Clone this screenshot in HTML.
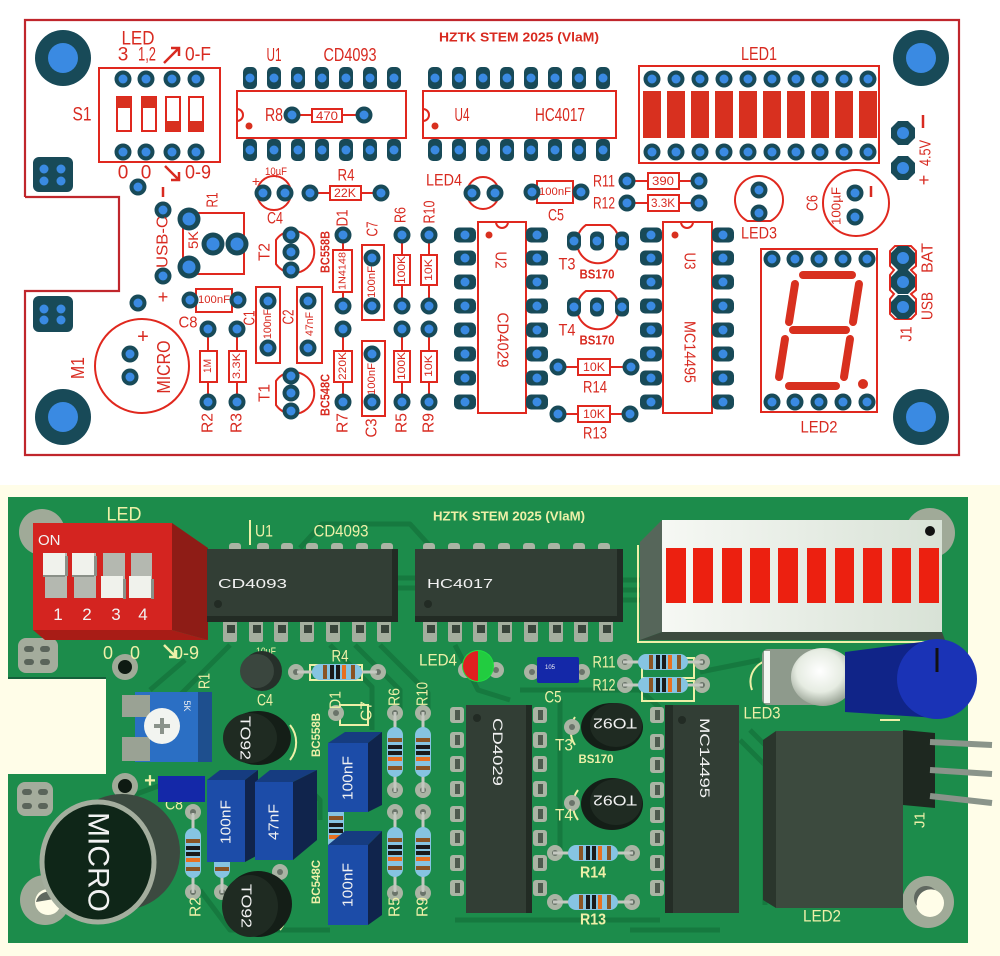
<!DOCTYPE html>
<html><head><meta charset="utf-8">
<style>
html,body{margin:0;padding:0;background:#fff;width:1000px;height:956px;overflow:hidden}
svg{display:block}
.t{font-family:"Liberation Sans",sans-serif;fill:#d82a20}
.y{font-family:"Liberation Sans",sans-serif;fill:#eef0a8}
.w{font-family:"Liberation Sans",sans-serif;fill:#f2f2f2}
</style></head><body>
<svg width="1000" height="956" viewBox="0 0 1000 956" xmlns="http://www.w3.org/2000/svg">
<defs>
<g id="p"><circle r="8.5" fill="#184a58"/><circle r="4.5" fill="#3a8ae2"/></g>
<g id="pb"><circle r="11.5" fill="#184a58"/><circle r="6.5" fill="#3a8ae2"/></g>
<g id="pv"><rect x="-7" y="-11" width="14" height="22" rx="5" fill="#184a58"/><circle r="4.5" fill="#3a8ae2"/></g>
<g id="ph"><rect x="-11" y="-7.5" width="22" height="15" rx="5" fill="#184a58"/><circle r="4.5" fill="#3a8ae2"/></g>
<g id="pt"><rect x="-7" y="-9.5" width="14" height="19" rx="6" fill="#184a58"/><circle r="4.5" fill="#3a8ae2"/></g>
<g id="po"><polygon points="-5,-12 5,-12 12,-5 12,5 5,12 -5,12 -12,5 -12,-5" fill="#184a58"/><circle r="6" fill="#3a8ae2"/></g>
<g id="mh"><circle r="28" fill="#184a58"/><circle r="15" fill="#3a8ae2"/></g>
<g id="gp"><circle r="8" fill="#aab4a4"/><circle r="3" fill="#6a746a"/></g>
<g id="gi"><rect x="-7" y="-8" width="14" height="16" rx="3" fill="#aab4a4"/><rect x="-2" y="-5" width="5" height="10" fill="#4e5a4e"/></g>
<g id="rh"><line x1="-40" x2="40" stroke="#c4c8c0" stroke-width="3"/><rect x="-25" y="-8" width="50" height="16" rx="8" fill="#86c4e2"/><rect x="-14" y="-7" width="4" height="14" fill="#8a5424"/><rect x="-7" y="-7" width="4" height="14" fill="#1a1a1a"/><rect x="-1" y="-7" width="4" height="14" fill="#1a1a1a"/><rect x="5" y="-7" width="4" height="14" fill="#e87020"/><rect x="14" y="-7" width="4" height="14" fill="#8a5424"/></g>
<radialGradient id="ledg" cx="0.45" cy="0.4" r="0.6"><stop offset="0" stop-color="#ffffff"/><stop offset="0.6" stop-color="#e6ece2"/><stop offset="1" stop-color="#9aa496"/></radialGradient>
<linearGradient id="barg" x1="0" x2="1"><stop offset="0" stop-color="#f6f8f4"/><stop offset="1" stop-color="#d8e2d6"/></linearGradient>
</defs>

<!-- ================= TOP: PCB LAYOUT ================= -->
<rect x="0" y="0" width="1000" height="484" fill="#ffffff"/>
<path d="M25,197 V20 H959 V455 H25 V291 H119 V197 H25" fill="none" stroke="#c0262c" stroke-width="2.2"/>

<use href="#mh" x="63" y="58"/><use href="#mh" x="921" y="58"/><use href="#mh" x="63" y="417"/><use href="#mh" x="921" y="417"/>

<rect x="33" y="157" width="40" height="35" rx="6" fill="#184a58"/>
<circle cx="44" cy="169" r="4.5" fill="#3a8ae2"/><circle cx="61" cy="169" r="4.5" fill="#3a8ae2"/><circle cx="44" cy="181" r="4.5" fill="#3a8ae2"/><circle cx="61" cy="181" r="4.5" fill="#3a8ae2"/>
<rect x="33" y="296" width="40" height="36" rx="6" fill="#184a58"/>
<circle cx="44" cy="309" r="4.5" fill="#3a8ae2"/><circle cx="61" cy="309" r="4.5" fill="#3a8ae2"/><circle cx="44" cy="320" r="4.5" fill="#3a8ae2"/><circle cx="61" cy="320" r="4.5" fill="#3a8ae2"/>

<g fill="none" stroke="#e0281e" stroke-width="2">
<rect x="99" y="68" width="121" height="94"/>
<rect x="117" y="97" width="14" height="34" fill="#fff"/><rect x="142" y="97" width="14" height="34" fill="#fff"/><rect x="166" y="97" width="14" height="34" fill="#fff"/><rect x="189" y="97" width="14" height="34" fill="#fff"/>
<rect x="237" y="91" width="169" height="47"/>
<path d="M237,109 A6,6 0 0 1 237,121"/>
<rect x="423" y="91" width="193" height="47"/>
<path d="M423,109 A6,6 0 0 1 423,121"/>
<line x1="292" y1="115" x2="364" y2="115"/>
<rect x="312" y="109" width="30" height="13" fill="#fff"/>
<rect x="639" y="66" width="240" height="97"/>
<circle cx="274" cy="193" r="17"/>
<line x1="310" y1="193" x2="381" y2="193"/>
<rect x="330" y="186" width="31" height="14" fill="#fff"/>
<circle cx="483" cy="193" r="16"/>
<rect x="537" y="181" width="36" height="22" fill="#fff"/>
<line x1="627" y1="181" x2="699" y2="181"/><rect x="648" y="173" width="31" height="16" fill="#fff"/>
<line x1="627" y1="203" x2="699" y2="203"/><rect x="648" y="195" width="31" height="16" fill="#fff"/>
<path d="M747.4,221 A24,24 0 1 1 770.6,221 Z"/>
<circle cx="856" cy="203" r="33"/>
<rect x="183" y="213" width="61" height="61"/>
<rect x="196" y="289" width="36" height="23" fill="#fff"/>
<circle cx="142" cy="366" r="47"/>
<line x1="208" y1="329" x2="208" y2="402"/><rect x="200" y="351" width="17" height="31" fill="#fff"/>
<line x1="237" y1="329" x2="237" y2="402"/><rect x="229" y="351" width="17" height="31" fill="#fff"/>
<rect x="256" y="287" width="24" height="76"/>
<rect x="297" y="287" width="25" height="76"/>
<path d="M276,240 A21,21 0 1 1 276,264 Z"/>
<path d="M276,381 A21,21 0 1 1 276,405 Z"/>
<line x1="343" y1="235" x2="343" y2="306"/><rect x="333" y="250" width="19" height="42" fill="#fff"/>
<line x1="343" y1="329" x2="343" y2="402"/><rect x="334" y="351" width="18" height="31" fill="#fff"/>
<rect x="362" y="245" width="22" height="75"/>
<rect x="362" y="341" width="23" height="75"/>
<line x1="402" y1="235" x2="402" y2="306"/><rect x="394" y="255" width="16" height="30" fill="#fff"/>
<line x1="402" y1="329" x2="402" y2="402"/><rect x="394" y="351" width="16" height="31" fill="#fff"/>
<line x1="429" y1="235" x2="429" y2="306"/><rect x="421" y="255" width="16" height="30" fill="#fff"/>
<line x1="429" y1="329" x2="429" y2="402"/><rect x="421" y="351" width="16" height="31" fill="#fff"/>
<rect x="478" y="222" width="48" height="191"/>
<path d="M496,222 A6,6 0 0 0 508,222"/>
<rect x="663" y="222" width="49" height="191"/>
<path d="M681,222 A6,6 0 0 0 693,222"/>
<path d="M586,225 A21,21 0 1 0 610,225 Z"/>
<path d="M586,291 A21,21 0 1 0 610,291 Z"/>
<line x1="558" y1="367" x2="631" y2="367"/><rect x="578" y="359" width="32" height="16" fill="#fff"/>
<line x1="558" y1="414" x2="630" y2="414"/><rect x="578" y="406" width="32" height="16" fill="#fff"/>
<rect x="761" y="249" width="116" height="163"/>
<path d="M895,246 H911 L916,251 V266 L911,270 L916,275 V290 L911,294 L916,299 V314 L911,319 H895 L890,314 V299 L894,294 L890,290 V275 L894,270 L890,266 V251 Z"/>
</g>

<rect x="117" y="97" width="14" height="11" fill="#d8301f"/><rect x="142" y="97" width="14" height="11" fill="#d8301f"/>
<rect x="166" y="121" width="14" height="10" fill="#d8301f"/><rect x="189" y="121" width="14" height="10" fill="#d8301f"/>
<circle cx="249" cy="126" r="3.5" fill="#d8301f"/><circle cx="435" cy="126" r="3.5" fill="#d8301f"/>
<circle cx="489" cy="235" r="3.5" fill="#d8301f"/><circle cx="675" cy="235" r="3.5" fill="#d8301f"/>

<g fill="#d8301f">
<rect x="643" y="91" width="18" height="47"/><rect x="667" y="91" width="18" height="47"/><rect x="691" y="91" width="18" height="47"/><rect x="715" y="91" width="18" height="47"/><rect x="739" y="91" width="18" height="47"/><rect x="763" y="91" width="18" height="47"/><rect x="787" y="91" width="18" height="47"/><rect x="811" y="91" width="18" height="47"/><rect x="835" y="91" width="18" height="47"/><rect x="859" y="91" width="18" height="47"/>
</g>

<g stroke="#d8301f" stroke-width="8" stroke-linecap="round" fill="none">
<line x1="803" y1="275" x2="852" y2="275"/>
<line x1="859" y1="284" x2="853" y2="322"/>
<line x1="795" y1="284" x2="789" y2="322"/>
<line x1="793" y1="330" x2="846" y2="330"/>
<line x1="785" y1="339" x2="779" y2="377"/>
<line x1="850" y1="339" x2="844" y2="377"/>
<line x1="789" y1="386" x2="836" y2="386"/>
</g>
<circle cx="863" cy="384" r="5" fill="#d8301f"/>

<use href="#p" x="123" y="79"/><use href="#p" x="146" y="79"/><use href="#p" x="172" y="79"/><use href="#p" x="196" y="79"/>
<use href="#p" x="123" y="152"/><use href="#p" x="146" y="152"/><use href="#p" x="172" y="152"/><use href="#p" x="196" y="152"/>
<use href="#p" x="138" y="187"/><use href="#p" x="163" y="210"/><use href="#p" x="163" y="276"/><use href="#p" x="138" y="303"/>
<use href="#pb" x="189" y="219"/><use href="#pb" x="213" y="244"/><use href="#pb" x="237" y="244"/><use href="#pb" x="189" y="267"/>
<use href="#p" x="190" y="300"/><use href="#p" x="238" y="300"/>
<use href="#p" x="130" y="354"/><use href="#p" x="130" y="377"/>
<use href="#p" x="208" y="329"/><use href="#p" x="208" y="402"/><use href="#p" x="237" y="329"/><use href="#p" x="237" y="402"/>
<use href="#p" x="263" y="193"/><use href="#p" x="285" y="193"/><use href="#p" x="310" y="193"/><use href="#p" x="381" y="193"/>
<use href="#p" x="291" y="235"/><use href="#p" x="291" y="252"/><use href="#p" x="291" y="270"/>
<use href="#p" x="291" y="376"/><use href="#p" x="291" y="393"/><use href="#p" x="291" y="411"/>
<use href="#p" x="268" y="301"/><use href="#p" x="268" y="348"/><use href="#p" x="308" y="301"/><use href="#p" x="308" y="348"/>
<use href="#p" x="343" y="235"/><use href="#p" x="343" y="306"/><use href="#p" x="343" y="329"/><use href="#p" x="343" y="402"/>
<use href="#p" x="372" y="258"/><use href="#p" x="372" y="306"/><use href="#p" x="372" y="354"/><use href="#p" x="372" y="402"/>
<use href="#p" x="402" y="235"/><use href="#p" x="402" y="306"/><use href="#p" x="402" y="329"/><use href="#p" x="402" y="402"/>
<use href="#p" x="429" y="235"/><use href="#p" x="429" y="306"/><use href="#p" x="429" y="329"/><use href="#p" x="429" y="402"/>
<use href="#p" x="292" y="115"/><use href="#p" x="364" y="115"/>
<use href="#p" x="472" y="193"/><use href="#p" x="495" y="193"/><use href="#p" x="532" y="192"/><use href="#p" x="581" y="192"/>
<use href="#p" x="627" y="181"/><use href="#p" x="699" y="181"/><use href="#p" x="627" y="203"/><use href="#p" x="699" y="203"/>
<use href="#p" x="759" y="190"/><use href="#p" x="759" y="213"/><use href="#p" x="855" y="193"/><use href="#p" x="855" y="217"/>
<use href="#po" x="903" y="133"/><use href="#po" x="903" y="168"/>
<use href="#po" x="903" y="258"/><use href="#po" x="903" y="282"/><use href="#po" x="903" y="307"/>
<use href="#pt" x="574" y="241"/><use href="#pt" x="597" y="241"/><use href="#pt" x="622" y="241"/>
<use href="#pt" x="574" y="307"/><use href="#pt" x="597" y="307"/><use href="#pt" x="622" y="307"/>
<use href="#p" x="558" y="367"/><use href="#p" x="631" y="367"/><use href="#p" x="558" y="414"/><use href="#p" x="630" y="414"/>
<use href="#p" x="772" y="259"/><use href="#p" x="795" y="259"/><use href="#p" x="819" y="259"/><use href="#p" x="843" y="259"/><use href="#p" x="867" y="259"/>
<use href="#p" x="772" y="402"/><use href="#p" x="795" y="402"/><use href="#p" x="819" y="402"/><use href="#p" x="843" y="402"/><use href="#p" x="867" y="402"/>
<use href="#pv" x="250" y="78"/><use href="#pv" x="274" y="78"/><use href="#pv" x="298" y="78"/><use href="#pv" x="322" y="78"/><use href="#pv" x="346" y="78"/><use href="#pv" x="370" y="78"/><use href="#pv" x="394" y="78"/>
<use href="#pv" x="250" y="150"/><use href="#pv" x="274" y="150"/><use href="#pv" x="298" y="150"/><use href="#pv" x="322" y="150"/><use href="#pv" x="346" y="150"/><use href="#pv" x="370" y="150"/><use href="#pv" x="394" y="150"/>
<use href="#pv" x="435" y="78"/><use href="#pv" x="459" y="78"/><use href="#pv" x="483" y="78"/><use href="#pv" x="507" y="78"/><use href="#pv" x="531" y="78"/><use href="#pv" x="555" y="78"/><use href="#pv" x="579" y="78"/><use href="#pv" x="603" y="78"/>
<use href="#pv" x="435" y="150"/><use href="#pv" x="459" y="150"/><use href="#pv" x="483" y="150"/><use href="#pv" x="507" y="150"/><use href="#pv" x="531" y="150"/><use href="#pv" x="555" y="150"/><use href="#pv" x="579" y="150"/><use href="#pv" x="603" y="150"/>
<use href="#p" x="652" y="79"/><use href="#p" x="676" y="79"/><use href="#p" x="700" y="79"/><use href="#p" x="724" y="79"/><use href="#p" x="748" y="79"/><use href="#p" x="772" y="79"/><use href="#p" x="796" y="79"/><use href="#p" x="820" y="79"/><use href="#p" x="844" y="79"/><use href="#p" x="868" y="79"/>
<use href="#p" x="652" y="152"/><use href="#p" x="676" y="152"/><use href="#p" x="700" y="152"/><use href="#p" x="724" y="152"/><use href="#p" x="748" y="152"/><use href="#p" x="772" y="152"/><use href="#p" x="796" y="152"/><use href="#p" x="820" y="152"/><use href="#p" x="844" y="152"/><use href="#p" x="868" y="152"/>
<g>
<use href="#ph" x="465" y="235"/><use href="#ph" x="465" y="258"/><use href="#ph" x="465" y="282"/><use href="#ph" x="465" y="306"/><use href="#ph" x="465" y="330"/><use href="#ph" x="465" y="354"/><use href="#ph" x="465" y="378"/><use href="#ph" x="465" y="402"/>
<use href="#ph" x="537" y="235"/><use href="#ph" x="537" y="258"/><use href="#ph" x="537" y="282"/><use href="#ph" x="537" y="306"/><use href="#ph" x="537" y="330"/><use href="#ph" x="537" y="354"/><use href="#ph" x="537" y="378"/><use href="#ph" x="537" y="402"/>
<use href="#ph" x="651" y="235"/><use href="#ph" x="651" y="258"/><use href="#ph" x="651" y="282"/><use href="#ph" x="651" y="306"/><use href="#ph" x="651" y="330"/><use href="#ph" x="651" y="354"/><use href="#ph" x="651" y="378"/><use href="#ph" x="651" y="402"/>
<use href="#ph" x="723" y="235"/><use href="#ph" x="723" y="258"/><use href="#ph" x="723" y="282"/><use href="#ph" x="723" y="306"/><use href="#ph" x="723" y="330"/><use href="#ph" x="723" y="354"/><use href="#ph" x="723" y="378"/><use href="#ph" x="723" y="402"/>
</g>

<g stroke="#d82a20" stroke-width="2.5" fill="none">
<path d="M164,63 L179,48 M171,48 H179 V56"/>
<path d="M165,166 L179,180 M171,180 H179 V172"/>
<line x1="163" y1="187" x2="163" y2="197"/>
<line x1="923" y1="115" x2="923" y2="128"/>
<line x1="871" y1="186" x2="871" y2="197"/>
</g>

<g class="t" text-anchor="middle" dominant-baseline="central">
<text x="138" y="39" font-size="19" textLength="33" lengthAdjust="spacingAndGlyphs">LED</text>
<text x="123" y="55" font-size="19">3</text>
<text x="147" y="55" font-size="19" textLength="18" lengthAdjust="spacingAndGlyphs">1,2</text>
<text x="198" y="55" font-size="19" textLength="26" lengthAdjust="spacingAndGlyphs">0-F</text>
<text x="123" y="173" font-size="19">0</text>
<text x="146" y="173" font-size="19">0</text>
<text x="198" y="173" font-size="19" textLength="26" lengthAdjust="spacingAndGlyphs">0-9</text>
<text x="82" y="115" font-size="19" textLength="19" lengthAdjust="spacingAndGlyphs">S1</text>
<text x="274" y="55" font-size="18" textLength="15" lengthAdjust="spacingAndGlyphs">U1</text>
<text x="350" y="55" font-size="18" textLength="53" lengthAdjust="spacingAndGlyphs">CD4093</text>
<text x="274" y="115" font-size="18" textLength="18" lengthAdjust="spacingAndGlyphs">R8</text>
<text x="327" y="116" font-size="12" textLength="22" lengthAdjust="spacingAndGlyphs">470</text>
<text x="519" y="37" font-size="13" font-weight="bold" textLength="160" lengthAdjust="spacingAndGlyphs">HZTK STEM 2025 (VlaM)</text>
<text x="462" y="115" font-size="18" textLength="15" lengthAdjust="spacingAndGlyphs">U4</text>
<text x="560" y="115" font-size="18" textLength="50" lengthAdjust="spacingAndGlyphs">HC4017</text>
<text x="759" y="54" font-size="18" textLength="36" lengthAdjust="spacingAndGlyphs">LED1</text>
<text x="604" y="181" font-size="17" textLength="22" lengthAdjust="spacingAndGlyphs">R11</text>
<text x="663" y="181" font-size="12" textLength="22" lengthAdjust="spacingAndGlyphs">390</text>
<text x="604" y="203" font-size="17" textLength="22" lengthAdjust="spacingAndGlyphs">R12</text>
<text x="663" y="203" font-size="12" textLength="24" lengthAdjust="spacingAndGlyphs">3.3K</text>
<text x="555" y="192" font-size="11" textLength="32" lengthAdjust="spacingAndGlyphs">100nF</text>
<text x="556" y="215" font-size="17" textLength="16" lengthAdjust="spacingAndGlyphs">C5</text>
<text x="759" y="233" font-size="17" textLength="36" lengthAdjust="spacingAndGlyphs">LED3</text>
<text x="444" y="180" font-size="17" textLength="36" lengthAdjust="spacingAndGlyphs">LED4</text>
<text x="276" y="172" font-size="11" textLength="22" lengthAdjust="spacingAndGlyphs">10µF</text>
<text x="256" y="181" font-size="14">+</text>
<text x="275" y="218" font-size="17" textLength="16" lengthAdjust="spacingAndGlyphs">C4</text>
<text x="346" y="175" font-size="17" textLength="17" lengthAdjust="spacingAndGlyphs">R4</text>
<text x="345" y="193" font-size="12" textLength="22" lengthAdjust="spacingAndGlyphs">22K</text>
<text x="163" y="297" font-size="18">+</text>
<text x="188" y="323" font-size="16" textLength="19" lengthAdjust="spacingAndGlyphs">C8</text>
<text x="214" y="300" font-size="11" textLength="32" lengthAdjust="spacingAndGlyphs">100nF</text>
<text x="143" y="337" font-size="20">+</text>
<text x="567" y="264" font-size="17" textLength="17" lengthAdjust="spacingAndGlyphs">T3</text>
<text x="597" y="274" font-size="13" font-weight="bold" textLength="35" lengthAdjust="spacingAndGlyphs">BS170</text>
<text x="567" y="330" font-size="17" textLength="17" lengthAdjust="spacingAndGlyphs">T4</text>
<text x="597" y="340" font-size="13" font-weight="bold" textLength="35" lengthAdjust="spacingAndGlyphs">BS170</text>
<text x="594" y="367" font-size="12" textLength="22" lengthAdjust="spacingAndGlyphs">10K</text>
<text x="595" y="387" font-size="17" textLength="24" lengthAdjust="spacingAndGlyphs">R14</text>
<text x="594" y="414" font-size="12" textLength="22" lengthAdjust="spacingAndGlyphs">10K</text>
<text x="595" y="433" font-size="17" textLength="24" lengthAdjust="spacingAndGlyphs">R13</text>
<text x="819" y="427" font-size="17" textLength="37" lengthAdjust="spacingAndGlyphs">LED2</text>
<text transform="translate(926,153) rotate(-90)" font-size="16" textLength="26" lengthAdjust="spacingAndGlyphs">4.5V</text>
<text transform="translate(924,180) rotate(-90)" font-size="18">+</text>
<text transform="translate(813,203) rotate(-90)" font-size="16" textLength="16" lengthAdjust="spacingAndGlyphs">C6</text>
<text transform="translate(836,206) rotate(-90)" font-size="13" textLength="38" lengthAdjust="spacingAndGlyphs">100µF</text>
<text transform="translate(343,218) rotate(-90)" font-size="16" textLength="17" lengthAdjust="spacingAndGlyphs">D1</text>
<text transform="translate(373,229) rotate(-90)" font-size="16" textLength="15" lengthAdjust="spacingAndGlyphs">C7</text>
<text transform="translate(401,215) rotate(-90)" font-size="16" textLength="16" lengthAdjust="spacingAndGlyphs">R6</text>
<text transform="translate(430,212) rotate(-90)" font-size="16" textLength="23" lengthAdjust="spacingAndGlyphs">R10</text>
<text transform="translate(213,200) rotate(-90)" font-size="16" textLength="15" lengthAdjust="spacingAndGlyphs">R1</text>
<text transform="translate(193,240) rotate(-90)" font-size="14" textLength="18" lengthAdjust="spacingAndGlyphs">5K</text>
<text transform="translate(163,242) rotate(-90)" font-size="16" textLength="52" lengthAdjust="spacingAndGlyphs">USB-C</text>
<text transform="translate(250,318) rotate(-90)" font-size="16" textLength="15" lengthAdjust="spacingAndGlyphs">C1</text>
<text transform="translate(268,324) rotate(-90)" font-size="11" textLength="30" lengthAdjust="spacingAndGlyphs">100nF</text>
<text transform="translate(289,317) rotate(-90)" font-size="16" textLength="15" lengthAdjust="spacingAndGlyphs">C2</text>
<text transform="translate(310,324) rotate(-90)" font-size="11" textLength="24" lengthAdjust="spacingAndGlyphs">47nF</text>
<text transform="translate(343,271) rotate(-90)" font-size="10" textLength="38" lengthAdjust="spacingAndGlyphs">1N4148</text>
<text transform="translate(265,252) rotate(-90)" font-size="16" textLength="18" lengthAdjust="spacingAndGlyphs">T2</text>
<text transform="translate(325,252) rotate(-90)" font-size="13" font-weight="bold" textLength="42" lengthAdjust="spacingAndGlyphs">BC558B</text>
<text transform="translate(265,393) rotate(-90)" font-size="16" textLength="18" lengthAdjust="spacingAndGlyphs">T1</text>
<text transform="translate(325,395) rotate(-90)" font-size="13" font-weight="bold" textLength="42" lengthAdjust="spacingAndGlyphs">BC548C</text>
<text transform="translate(372,282) rotate(-90)" font-size="11" textLength="32" lengthAdjust="spacingAndGlyphs">100nF</text>
<text transform="translate(372,379) rotate(-90)" font-size="11" textLength="32" lengthAdjust="spacingAndGlyphs">100nF</text>
<text transform="translate(402,270) rotate(-90)" font-size="11" textLength="28" lengthAdjust="spacingAndGlyphs">100K</text>
<text transform="translate(429,270) rotate(-90)" font-size="11" textLength="22" lengthAdjust="spacingAndGlyphs">10K</text>
<text transform="translate(343,366) rotate(-90)" font-size="11" textLength="28" lengthAdjust="spacingAndGlyphs">220K</text>
<text transform="translate(402,366) rotate(-90)" font-size="11" textLength="28" lengthAdjust="spacingAndGlyphs">100K</text>
<text transform="translate(429,366) rotate(-90)" font-size="11" textLength="22" lengthAdjust="spacingAndGlyphs">10K</text>
<text transform="translate(208,366) rotate(-90)" font-size="11" textLength="14" lengthAdjust="spacingAndGlyphs">1M</text>
<text transform="translate(237,366) rotate(-90)" font-size="11" textLength="26" lengthAdjust="spacingAndGlyphs">3.3K</text>
<text transform="translate(208,423) rotate(-90)" font-size="16" textLength="20" lengthAdjust="spacingAndGlyphs">R2</text>
<text transform="translate(237,423) rotate(-90)" font-size="16" textLength="20" lengthAdjust="spacingAndGlyphs">R3</text>
<text transform="translate(343,423) rotate(-90)" font-size="16" textLength="20" lengthAdjust="spacingAndGlyphs">R7</text>
<text transform="translate(372,428) rotate(-90)" font-size="16" textLength="19" lengthAdjust="spacingAndGlyphs">C3</text>
<text transform="translate(402,423) rotate(-90)" font-size="16" textLength="20" lengthAdjust="spacingAndGlyphs">R5</text>
<text transform="translate(429,423) rotate(-90)" font-size="16" textLength="20" lengthAdjust="spacingAndGlyphs">R9</text>
<text transform="translate(78,368) rotate(-90)" font-size="18" textLength="22" lengthAdjust="spacingAndGlyphs">M1</text>
<text transform="translate(164,367) rotate(-90)" font-size="18" textLength="53" lengthAdjust="spacingAndGlyphs">MICRO</text>
<text transform="translate(928,258) rotate(-90)" font-size="16" textLength="30" lengthAdjust="spacingAndGlyphs">BAT</text>
<text transform="translate(928,306) rotate(-90)" font-size="16" textLength="28" lengthAdjust="spacingAndGlyphs">USB</text>
<text transform="translate(907,334) rotate(-90)" font-size="16" textLength="15" lengthAdjust="spacingAndGlyphs">J1</text>
<text transform="translate(500,260) rotate(90)" font-size="16" textLength="17" lengthAdjust="spacingAndGlyphs">U2</text>
<text transform="translate(502,340) rotate(90)" font-size="16" textLength="55" lengthAdjust="spacingAndGlyphs">CD4029</text>
<text transform="translate(689,261) rotate(90)" font-size="16" textLength="17" lengthAdjust="spacingAndGlyphs">U3</text>
<text transform="translate(689,352) rotate(90)" font-size="16" textLength="62" lengthAdjust="spacingAndGlyphs">MC14495</text>
</g>

<!-- ================= BOTTOM: 3D RENDER ================= -->
<rect x="0" y="485" width="1000" height="471" fill="#fffde8"/>
<path d="M8,497 H968 V943 H8 V774 H106 V678 H8 Z" fill="#1c8c4b"/>
<line x1="8" y1="678" x2="106" y2="678" stroke="#14603a" stroke-width="2"/>

<g fill="none" stroke="#16793f" stroke-width="5" stroke-linejoin="round">
<path d="M300,548 L322,524 H410 L430,546"/>
<path d="M398,578 H416 M398,588 H416"/>
<path d="M623,580 H640 M623,590 H640 M623,600 H640"/>
<path d="M230,645 L180,695"/>
<path d="M330,645 L372,687 V730"/>
<path d="M355,645 L400,690 V712"/>
<path d="M380,645 L428,693 V712"/>
<path d="M455,645 L478,690 L510,700"/>
<path d="M520,690 H640 L660,708"/>
<path d="M700,672 L760,660"/>
<path d="M740,740 L765,765 V905"/>
<path d="M750,730 L778,758"/>
<path d="M560,700 L560,850"/>
<path d="M455,920 H660"/>
<path d="M300,780 L320,800 V820"/>
<path d="M150,690 L185,660"/>
<path d="M200,890 L230,930 H330"/>
<path d="M630,930 L720,930"/>
<path d="M120,800 L175,780"/>
</g>

<g fill="none" stroke="#eef0a8" stroke-width="2">
<path d="M638,545 V642 H945"/>
<path d="M752,690 A22,22 0 0 1 770,660"/>
<path d="M575,717 A25,25 0 0 0 575,745"/>
<path d="M578,790 A25,25 0 0 0 578,820"/>
<path d="M290,725 A28,28 0 0 1 290,760"/>
<path d="M280,895 A28,28 0 0 1 280,930"/>
<rect x="642" y="658" width="52" height="20"/>
<rect x="642" y="681" width="52" height="20"/>
<rect x="310" y="665" width="52" height="15"/>
<line x1="250" y1="520" x2="250" y2="545"/>
<rect x="340" y="705" width="28" height="20"/>
<path d="M880,720 H900"/>
</g>

<g>
<circle cx="42" cy="532" r="23" fill="#a0aa98"/>
<circle cx="930" cy="533" r="25" fill="#a0aa98"/>
<circle cx="45" cy="900" r="25" fill="#a0aa98"/><circle cx="48" cy="902" r="13" fill="#fffde8"/><path d="M36,902 A13,13 0 0 1 60,898" fill="#606860"/>
<circle cx="928" cy="902" r="26" fill="#a0aa98"/><circle cx="930" cy="903" r="14" fill="#fffde8"/><path d="M917,906 A14,14 0 0 1 935,890 A12,12 0 0 0 917,906" fill="#606860"/>
<rect x="18" y="638" width="40" height="35" rx="8" fill="#a4ac9c"/>
<rect x="24" y="646" width="10" height="6" rx="3" fill="#5a645a"/><rect x="40" y="646" width="10" height="6" rx="3" fill="#5a645a"/><rect x="24" y="659" width="10" height="6" rx="3" fill="#5a645a"/><rect x="40" y="659" width="10" height="6" rx="3" fill="#5a645a"/>
<rect x="17" y="782" width="36" height="34" rx="8" fill="#a4ac9c"/>
<rect x="22" y="789" width="10" height="6" rx="3" fill="#5a645a"/><rect x="38" y="789" width="10" height="6" rx="3" fill="#5a645a"/><rect x="22" y="803" width="10" height="6" rx="3" fill="#5a645a"/><rect x="38" y="803" width="10" height="6" rx="3" fill="#5a645a"/>
<circle cx="125" cy="667" r="13" fill="#a0aa98"/><circle cx="125" cy="667" r="7" fill="#0e1a12"/>
<circle cx="125" cy="786" r="13" fill="#a0aa98"/><circle cx="125" cy="786" r="7" fill="#0e1a12"/>
<use href="#gp" x="296" y="672"/><use href="#gp" x="378" y="672"/>
<use href="#gp" x="625" y="662"/><use href="#gp" x="702" y="662"/><use href="#gp" x="625" y="685"/><use href="#gp" x="702" y="685"/>
<use href="#gp" x="532" y="672"/><use href="#gp" x="582" y="672"/>
<use href="#gp" x="466" y="670"/><use href="#gp" x="496" y="670"/>
<use href="#gp" x="395" y="713"/><use href="#gp" x="395" y="790"/><use href="#gp" x="423" y="713"/><use href="#gp" x="423" y="790"/>
<use href="#gp" x="395" y="812"/><use href="#gp" x="395" y="893"/><use href="#gp" x="423" y="812"/><use href="#gp" x="423" y="893"/>
<use href="#gp" x="193" y="812"/><use href="#gp" x="193" y="892"/><use href="#gp" x="222" y="812"/><use href="#gp" x="222" y="892"/>
<use href="#gp" x="336" y="713"/><use href="#gp" x="336" y="812"/>
<use href="#gp" x="555" y="853"/><use href="#gp" x="632" y="853"/><use href="#gp" x="555" y="902"/><use href="#gp" x="632" y="902"/>
<use href="#gp" x="572" y="727"/><use href="#gp" x="572" y="803"/>
<use href="#gp" x="150" y="744"/><use href="#gp" x="280" y="872"/>
<use href="#gi" x="457" y="715"/><use href="#gi" x="457" y="740"/><use href="#gi" x="457" y="764"/><use href="#gi" x="457" y="789"/><use href="#gi" x="457" y="814"/><use href="#gi" x="457" y="838"/><use href="#gi" x="457" y="863"/><use href="#gi" x="457" y="888"/>
<use href="#gi" x="540" y="715"/><use href="#gi" x="540" y="740"/><use href="#gi" x="540" y="764"/><use href="#gi" x="540" y="789"/><use href="#gi" x="540" y="814"/><use href="#gi" x="540" y="838"/><use href="#gi" x="540" y="863"/><use href="#gi" x="540" y="888"/>
<use href="#gi" x="657" y="715"/><use href="#gi" x="657" y="742"/><use href="#gi" x="657" y="765"/><use href="#gi" x="657" y="790"/><use href="#gi" x="657" y="815"/><use href="#gi" x="657" y="838"/><use href="#gi" x="657" y="863"/><use href="#gi" x="657" y="888"/>
</g>

<g class="y" text-anchor="middle" dominant-baseline="central">
<text x="124" y="515" font-size="19" textLength="35" lengthAdjust="spacingAndGlyphs">LED</text>
<text x="264" y="531" font-size="17" textLength="18" lengthAdjust="spacingAndGlyphs">U1</text>
<text x="341" y="531" font-size="17" textLength="55" lengthAdjust="spacingAndGlyphs">CD4093</text>
<text x="509" y="516" font-size="13" font-weight="bold" textLength="152" lengthAdjust="spacingAndGlyphs">HZTK STEM 2025 (VlaM)</text>
<text x="108" y="653" font-size="18">0</text>
<text x="135" y="653" font-size="18">0</text>
<text x="186" y="653" font-size="18" textLength="26" lengthAdjust="spacingAndGlyphs">0-9</text>
<text x="266" y="652" font-size="11" textLength="20" lengthAdjust="spacingAndGlyphs">10µF</text>
<text x="340" y="656" font-size="17" textLength="17" lengthAdjust="spacingAndGlyphs">R4</text>
<text x="438" y="660" font-size="17" textLength="38" lengthAdjust="spacingAndGlyphs">LED4</text>
<text x="265" y="700" font-size="17" textLength="16" lengthAdjust="spacingAndGlyphs">C4</text>
<text x="553" y="697" font-size="17" textLength="17" lengthAdjust="spacingAndGlyphs">C5</text>
<text x="604" y="662" font-size="17" textLength="23" lengthAdjust="spacingAndGlyphs">R11</text>
<text x="604" y="685" font-size="17" textLength="23" lengthAdjust="spacingAndGlyphs">R12</text>
<text x="762" y="713" font-size="17" textLength="37" lengthAdjust="spacingAndGlyphs">LED3</text>
<text x="150" y="781" font-size="20" font-weight="bold">+</text>
<text x="174" y="805" font-size="16" textLength="18" lengthAdjust="spacingAndGlyphs">C8</text>
<text x="564" y="745" font-size="17" textLength="18" lengthAdjust="spacingAndGlyphs">T3</text>
<text x="596" y="759" font-size="12" font-weight="bold" textLength="35" lengthAdjust="spacingAndGlyphs">BS170</text>
<text x="564" y="815" font-size="17" textLength="18" lengthAdjust="spacingAndGlyphs">T4</text>
<text x="593" y="873" font-size="16" font-weight="bold" textLength="26" lengthAdjust="spacingAndGlyphs">R14</text>
<text x="593" y="920" font-size="16" font-weight="bold" textLength="26" lengthAdjust="spacingAndGlyphs">R13</text>
<text x="822" y="916" font-size="17" textLength="38" lengthAdjust="spacingAndGlyphs">LED2</text>
<text transform="translate(205,681) rotate(-90)" font-size="16" textLength="16" lengthAdjust="spacingAndGlyphs">R1</text>
<text transform="translate(336,700) rotate(-90)" font-size="16" textLength="18" lengthAdjust="spacingAndGlyphs">D1</text>
<text transform="translate(367,711) rotate(-90)" font-size="16" textLength="20" lengthAdjust="spacingAndGlyphs">C7</text>
<text transform="translate(395,697) rotate(-90)" font-size="16" textLength="18" lengthAdjust="spacingAndGlyphs">R6</text>
<text transform="translate(423,694) rotate(-90)" font-size="16" textLength="24" lengthAdjust="spacingAndGlyphs">R10</text>
<text transform="translate(316,735) rotate(-90)" font-size="12" font-weight="bold" textLength="44" lengthAdjust="spacingAndGlyphs">BC558B</text>
<text transform="translate(316,882) rotate(-90)" font-size="12" font-weight="bold" textLength="44" lengthAdjust="spacingAndGlyphs">BC548C</text>
<text transform="translate(196,907) rotate(-90)" font-size="16" textLength="20" lengthAdjust="spacingAndGlyphs">R2</text>
<text transform="translate(395,907) rotate(-90)" font-size="16" textLength="20" lengthAdjust="spacingAndGlyphs">R5</text>
<text transform="translate(423,907) rotate(-90)" font-size="16" textLength="20" lengthAdjust="spacingAndGlyphs">R9</text>
<text transform="translate(920,820) rotate(-90)" font-size="15" textLength="16" lengthAdjust="spacingAndGlyphs">J1</text>
</g>
<path d="M164,645 L176,657 M169,657 H176 V650" stroke="#eef0a8" stroke-width="2.5" fill="none"/>

<!-- DIP switch -->
<rect x="33" y="523" width="139" height="107" fill="#d42420"/>
<polygon points="172,523 208,548 208,640 172,630" fill="#8e1c16"/>
<polygon points="33,630 172,630 208,640 45,640" fill="#a81c16"/>
<text x="38" y="545" class="w" font-size="15">ON</text>
<g>
<rect x="45" y="553" width="22" height="45" fill="#b4b8b0"/><rect x="43" y="553" width="22" height="22" fill="#f0f2ec"/><rect x="65" y="556" width="3" height="20" fill="#8a9088"/><rect x="43" y="575" width="22" height="2" fill="#8a9088"/>
<rect x="74" y="553" width="22" height="45" fill="#b4b8b0"/><rect x="72" y="553" width="22" height="22" fill="#f0f2ec"/><rect x="94" y="556" width="3" height="20" fill="#8a9088"/><rect x="72" y="575" width="22" height="2" fill="#8a9088"/>
<rect x="103" y="553" width="22" height="45" fill="#b4b8b0"/><rect x="101" y="576" width="22" height="22" fill="#f0f2ec"/><rect x="123" y="579" width="3" height="20" fill="#8a9088"/>
<rect x="131" y="553" width="21" height="45" fill="#b4b8b0"/><rect x="129" y="576" width="22" height="22" fill="#f0f2ec"/><rect x="151" y="579" width="3" height="20" fill="#8a9088"/>
</g>
<g class="w" text-anchor="middle" font-size="17"><text x="58" y="620">1</text><text x="87" y="620">2</text><text x="116" y="620">3</text><text x="143" y="620">4</text></g>

<!-- U1 / U4 chips -->
<g fill="#aab4a4">
<rect x="229" y="543" width="12" height="8" rx="3"/><rect x="257" y="543" width="12" height="8" rx="3"/><rect x="281" y="543" width="12" height="8" rx="3"/><rect x="306" y="543" width="12" height="8" rx="3"/><rect x="331" y="543" width="12" height="8" rx="3"/><rect x="356" y="543" width="12" height="8" rx="3"/><rect x="381" y="543" width="12" height="8" rx="3"/>
<rect x="423" y="543" width="12" height="8" rx="3"/><rect x="448" y="543" width="12" height="8" rx="3"/><rect x="473" y="543" width="12" height="8" rx="3"/><rect x="498" y="543" width="12" height="8" rx="3"/><rect x="523" y="543" width="12" height="8" rx="3"/><rect x="548" y="543" width="12" height="8" rx="3"/><rect x="573" y="543" width="12" height="8" rx="3"/><rect x="598" y="543" width="12" height="8" rx="3"/>
</g>
<g fill="#a4ae9e">
<rect x="223" y="620" width="14" height="22" rx="2"/><rect x="249" y="620" width="14" height="22" rx="2"/><rect x="274" y="620" width="14" height="22" rx="2"/><rect x="300" y="620" width="14" height="22" rx="2"/><rect x="326" y="620" width="14" height="22" rx="2"/><rect x="352" y="620" width="14" height="22" rx="2"/><rect x="377" y="620" width="14" height="22" rx="2"/>
<rect x="423" y="620" width="14" height="22" rx="2"/><rect x="448" y="620" width="14" height="22" rx="2"/><rect x="473" y="620" width="14" height="22" rx="2"/><rect x="498" y="620" width="14" height="22" rx="2"/><rect x="524" y="620" width="14" height="22" rx="2"/><rect x="549" y="620" width="14" height="22" rx="2"/><rect x="574" y="620" width="14" height="22" rx="2"/><rect x="599" y="620" width="14" height="22" rx="2"/>
</g>
<g fill="#38443a">
<rect x="227" y="625" width="8" height="8"/><rect x="253" y="625" width="8" height="8"/><rect x="278" y="625" width="8" height="8"/><rect x="304" y="625" width="8" height="8"/><rect x="330" y="625" width="8" height="8"/><rect x="356" y="625" width="8" height="8"/><rect x="381" y="625" width="8" height="8"/>
<rect x="427" y="625" width="8" height="8"/><rect x="452" y="625" width="8" height="8"/><rect x="477" y="625" width="8" height="8"/><rect x="502" y="625" width="8" height="8"/><rect x="528" y="625" width="8" height="8"/><rect x="553" y="625" width="8" height="8"/><rect x="578" y="625" width="8" height="8"/><rect x="603" y="625" width="8" height="8"/>
</g>
<rect x="207" y="549" width="191" height="73" fill="#323e35"/>
<rect x="392" y="549" width="6" height="73" fill="#222b24"/>
<rect x="207" y="616" width="191" height="6" fill="#222b24"/>
<circle cx="218" cy="604" r="4" fill="#222b24"/>
<text x="218" y="588" class="w" font-size="13" textLength="69" lengthAdjust="spacingAndGlyphs">CD4093</text>
<rect x="415" y="549" width="208" height="73" fill="#323e35"/>
<rect x="617" y="549" width="6" height="73" fill="#222b24"/>
<rect x="415" y="616" width="208" height="6" fill="#222b24"/>
<circle cx="428" cy="604" r="4" fill="#222b24"/>
<text x="427" y="588" class="w" font-size="13" textLength="66" lengthAdjust="spacingAndGlyphs">HC4017</text>

<!-- LED1 bar graph -->
<polygon points="640,542 662,520 662,632 640,640" fill="#56665a"/>
<polygon points="640,640 662,632 942,632 945,640" fill="#3c4a3e"/>
<rect x="662" y="520" width="280" height="112" fill="url(#barg)"/>
<g fill="#ec2010">
<rect x="666" y="548" width="20" height="55"/><rect x="693" y="548" width="20" height="55"/><rect x="722" y="548" width="20" height="55"/><rect x="750" y="548" width="20" height="55"/><rect x="778" y="548" width="20" height="55"/><rect x="807" y="548" width="19" height="55"/><rect x="835" y="548" width="19" height="55"/><rect x="863" y="548" width="19" height="55"/><rect x="892" y="548" width="19" height="55"/><rect x="919" y="548" width="20" height="55"/>
</g>
<circle cx="930" cy="531" r="5" fill="#111"/>

<!-- LED4 -->
<circle cx="478" cy="666" r="16" fill="#20e040"/>
<path d="M478,651 A15,15 0 0 0 478,681 Z" fill="#e02020"/>
<path d="M478,651 A15,15 0 0 1 478,681 Z" fill="#22cc40"/>

<!-- C4 -->
<circle cx="262" cy="671" r="20" fill="#26302a"/><circle cx="257" cy="671" r="17" fill="#3a463e"/>

<!-- resistors -->
<use href="#rh" x="337" y="672"/>
<use href="#rh" x="663" y="662"/>
<use href="#rh" x="663" y="685"/>
<use href="#rh" transform="translate(395,752) rotate(90)"/>
<use href="#rh" transform="translate(423,752) rotate(90)"/>
<use href="#rh" transform="translate(395,852) rotate(90)"/>
<use href="#rh" transform="translate(423,852) rotate(90)"/>
<use href="#rh" transform="translate(193,853) rotate(90)"/>
<use href="#rh" transform="translate(222,853) rotate(90)"/>
<use href="#rh" transform="translate(336,830) rotate(90)"/>
<use href="#rh" x="593" y="853"/>
<use href="#rh" x="593" y="902"/>

<!-- C5 -->
<rect x="537" y="657" width="42" height="26" rx="2" fill="#1428a8"/>
<text x="545" y="669" font-size="6" class="w">105</text>

<!-- LED3 & C6 -->
<rect x="762" y="649" width="62" height="56" rx="6" fill="#8e9a8c"/>
<rect x="764" y="651" width="6" height="52" fill="#f4f6f2"/>
<ellipse cx="823" cy="677" rx="32" ry="29" fill="url(#ledg)"/>
<polygon points="845,652 937,640 937,718 845,712" fill="#102488"/>
<circle cx="937" cy="679" r="40" fill="#1a33b6"/>
<line x1="937" y1="648" x2="937" y2="672" stroke="#111" stroke-width="3"/>

<!-- R1 trimpot -->
<rect x="135" y="692" width="77" height="70" fill="#2b6fc4"/>
<rect x="198" y="692" width="14" height="70" fill="#1e4f8e"/>
<rect x="122" y="695" width="28" height="22" fill="#9aa294"/><rect x="122" y="737" width="28" height="24" fill="#9aa294"/>
<circle cx="162" cy="726" r="18" fill="#f2f4f0"/>
<path d="M162,718 V734 M154,726 H170" stroke="#8a928a" stroke-width="4"/>
<text transform="translate(187,706) rotate(90)" font-size="9" class="w" text-anchor="middle" dominant-baseline="central">5K</text>

<!-- T2 -->
<ellipse cx="258" cy="738" rx="33" ry="27" fill="#141e17"/>
<ellipse cx="250" cy="738" rx="27" ry="25" fill="#1f2b22"/>
<text transform="translate(245,738) rotate(90)" class="w" font-size="15" text-anchor="middle" dominant-baseline="central" textLength="44" lengthAdjust="spacingAndGlyphs">TO92</text>

<!-- MICRO -->
<ellipse cx="122" cy="852" rx="58" ry="58" fill="#3c4a40"/>
<ellipse cx="98" cy="862" rx="56" ry="60" fill="#0f2618" stroke="#a4ae9e" stroke-width="5"/>
<text transform="translate(98,862) rotate(90)" class="w" font-size="30" text-anchor="middle" dominant-baseline="central" textLength="100" lengthAdjust="spacingAndGlyphs">MICRO</text>

<!-- C8 -->
<rect x="158" y="776" width="47" height="26" fill="#1428a8"/>

<!-- C1 / C2 -->
<polygon points="207,780 220,770 258,770 245,780" fill="#163c80"/>
<rect x="207" y="780" width="38" height="82" fill="#1c4ca8"/>
<polygon points="245,780 258,770 258,855 245,862" fill="#10244c"/>
<text transform="translate(226,822) rotate(-90)" class="w" font-size="15" text-anchor="middle" dominant-baseline="central" textLength="44" lengthAdjust="spacingAndGlyphs">100nF</text>
<polygon points="255,782 270,770 317,770 293,782" fill="#163c80"/>
<rect x="255" y="782" width="38" height="78" fill="#1c4ca8"/>
<polygon points="293,782 317,770 317,840 293,860" fill="#10244c"/>
<text transform="translate(274,822) rotate(-90)" class="w" font-size="15" text-anchor="middle" dominant-baseline="central" textLength="36" lengthAdjust="spacingAndGlyphs">47nF</text>

<!-- C7 / C3 -->
<polygon points="328,743 345,732 382,732 368,743" fill="#163c80"/>
<rect x="328" y="743" width="40" height="69" fill="#1c4ca8"/>
<polygon points="368,743 382,732 382,805 368,812" fill="#10244c"/>
<text transform="translate(348,778) rotate(-90)" class="w" font-size="15" text-anchor="middle" dominant-baseline="central" textLength="44" lengthAdjust="spacingAndGlyphs">100nF</text>
<polygon points="328,845 345,831 382,831 368,845" fill="#163c80"/>
<rect x="328" y="845" width="40" height="80" fill="#1c4ca8"/>
<polygon points="368,845 382,831 382,915 368,925" fill="#10244c"/>
<text transform="translate(348,885) rotate(-90)" class="w" font-size="15" text-anchor="middle" dominant-baseline="central" textLength="44" lengthAdjust="spacingAndGlyphs">100nF</text>

<!-- T1 -->
<ellipse cx="258" cy="904" rx="34" ry="33" fill="#141e17"/>
<ellipse cx="250" cy="906" rx="28" ry="31" fill="#1f2b22"/>
<text transform="translate(246,906) rotate(90)" class="w" font-size="15" text-anchor="middle" dominant-baseline="central" textLength="44" lengthAdjust="spacingAndGlyphs">TO92</text>

<!-- U2 -->
<rect x="466" y="705" width="66" height="208" fill="#323e35"/>
<rect x="526" y="705" width="6" height="208" fill="#222b24"/>
<circle cx="477" cy="718" r="4" fill="#222b24"/>
<text transform="translate(498,752) rotate(90)" class="w" font-size="14" text-anchor="middle" dominant-baseline="central" textLength="68" lengthAdjust="spacingAndGlyphs">CD4029</text>

<!-- U3 -->
<rect x="665" y="705" width="74" height="208" fill="#323e35"/>
<rect x="665" y="705" width="8" height="208" fill="#242d26"/>
<circle cx="682" cy="720" r="4" fill="#222b24"/>
<text transform="translate(705,758) rotate(90)" class="w" font-size="14" text-anchor="middle" dominant-baseline="central" textLength="80" lengthAdjust="spacingAndGlyphs">MC14495</text>

<!-- T3 / T4 -->
<ellipse cx="612" cy="727" rx="31" ry="24" fill="#141e17"/>
<ellipse cx="616" cy="725" rx="26" ry="22" fill="#1f2b22"/>
<text transform="translate(615,723) rotate(180)" class="w" font-size="15" text-anchor="middle" dominant-baseline="central" textLength="44" lengthAdjust="spacingAndGlyphs">TO92</text>
<ellipse cx="612" cy="804" rx="31" ry="26" fill="#141e17"/>
<ellipse cx="616" cy="802" rx="26" ry="23" fill="#1f2b22"/>
<text transform="translate(615,800) rotate(180)" class="w" font-size="15" text-anchor="middle" dominant-baseline="central" textLength="44" lengthAdjust="spacingAndGlyphs">TO92</text>

<!-- LED2 -->
<polygon points="763,740 776,731 776,908 763,900" fill="#2a362c"/>
<rect x="776" y="731" width="127" height="177" fill="#3c4a3e"/>

<!-- J1 -->
<polygon points="903,730 935,733 935,808 903,805" fill="#1e2820"/>
<g stroke="#8a948a" stroke-width="6">
<line x1="930" y1="742" x2="992" y2="745"/>
<line x1="930" y1="770" x2="992" y2="774"/>
<line x1="930" y1="796" x2="992" y2="803"/>
</g>
</svg>
</body></html>
